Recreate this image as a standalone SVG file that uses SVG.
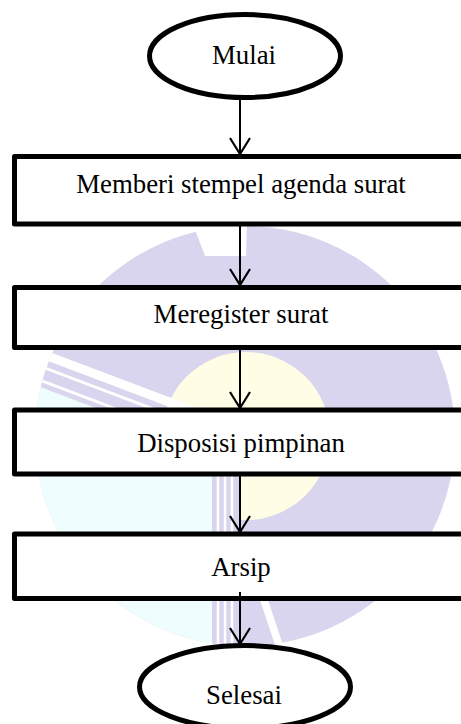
<svg xmlns="http://www.w3.org/2000/svg" width="461" height="724" viewBox="0 0 461 724">
<style>
.node{fill:#ffffff;stroke:#000000;stroke-width:5;stroke-linejoin:round}
.lbl{font-family:"Liberation Serif","Times New Roman",serif;font-size:26.8px;fill:#000000;text-anchor:middle}
.conn{stroke:#000000;stroke-width:2;fill:none}
.wm-lav{fill:#d9d5ee}
.wm-gap{stroke:#ffffff;fill:none}
</style>
<defs>
<marker id="arr" markerUnits="userSpaceOnUse" viewBox="-18 -12 20 24" refX="0" refY="0" markerWidth="20" markerHeight="24" orient="auto">
<path d="M -16,-10 L 0,0 L -16,10" fill="none" stroke="#000000" stroke-width="2.2"/>
</marker>
<clipPath id="wmclip"><circle cx="245" cy="436" r="210"/></clipPath>
<clipPath id="diagclip"><rect x="0" y="0" width="213" height="724"/></clipPath>
</defs>
<rect width="461" height="724" fill="#ffffff"/>
<g id="watermark">
<circle class="wm-lav" cx="245" cy="436" r="210"/>
<circle cx="246" cy="436" r="84" fill="#fffde6"/>
<g clip-path="url(#wmclip)">
<polygon points="0,370 213,451 213,724 0,724" fill="#effdfe"/>
<g clip-path="url(#diagclip)">
<line class="wm-lav" x1="0" y1="361" x2="213" y2="442" stroke="#d9d5ee" stroke-width="20"/>
<line class="wm-gap" x1="0" y1="338" x2="230" y2="425" stroke-width="9"/>
<line class="wm-gap" x1="0" y1="351" x2="230" y2="438" stroke-width="3"/>
<line class="wm-gap" x1="0" y1="365" x2="230" y2="452" stroke-width="3"/>
</g>
<rect x="212" y="470" width="27" height="260" fill="#d9d5ee"/>
<line class="wm-gap" x1="218" y1="470" x2="218" y2="700" stroke-width="2.5"/>
<line class="wm-gap" x1="225" y1="470" x2="225" y2="700" stroke-width="2.5"/>
<line class="wm-gap" x1="232" y1="470" x2="232" y2="700" stroke-width="2.5"/>
<polygon points="260,600 268,600 284,648 276,648" fill="#ffffff"/>
</g>
<polygon points="192,222 247,222 246,256 205,256" fill="#ffffff"/>
</g>
<g id="connectors">
<line class="conn" x1="240" y1="100" x2="240" y2="154" marker-end="url(#arr)"/>
<line class="conn" x1="240" y1="226" x2="240" y2="285" marker-end="url(#arr)"/>
<line class="conn" x1="240" y1="350" x2="240" y2="408" marker-end="url(#arr)"/>
<line class="conn" x1="240" y1="476" x2="240" y2="532" marker-end="url(#arr)"/>
<line class="conn" x1="240" y1="592" x2="240" y2="644" marker-end="url(#arr)"/>
</g>
<g id="mulai">
<ellipse class="node" cx="245" cy="56" rx="95.5" ry="41.5"/>
<text class="lbl" x="244" y="64">Mulai</text>
</g>
<g id="stempel">
<rect class="node" x="14.5" y="156.5" width="460" height="67.5"/>
<text class="lbl" x="241" y="193">Memberi stempel agenda surat</text>
</g>
<g id="register">
<rect class="node" x="14.5" y="287.5" width="460" height="60"/>
<text class="lbl" x="241" y="323">Meregister surat</text>
</g>
<g id="disposisi">
<rect class="node" x="14.5" y="410" width="460" height="64"/>
<text class="lbl" x="241" y="452">Disposisi pimpinan</text>
</g>
<g id="arsip">
<rect class="node" x="14.5" y="534" width="460" height="64.5"/>
<text class="lbl" x="241" y="576">Arsip</text>
</g>
<line class="conn" x1="240" y1="592" x2="240" y2="598.5"/>
<g id="selesai">
<ellipse class="node" cx="245" cy="687" rx="105.5" ry="41.5"/>
<text class="lbl" x="244" y="704">Selesai</text>
</g>
</svg>
